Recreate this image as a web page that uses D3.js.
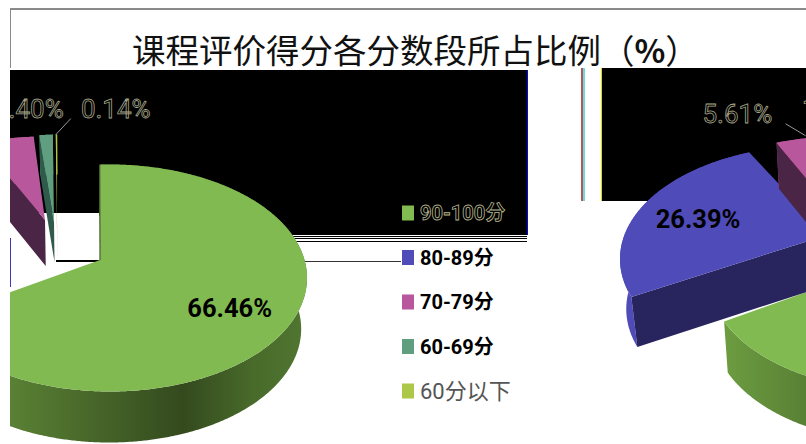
<!DOCTYPE html>
<html>
<head>
<meta charset="utf-8">
<script src="https://cdn.jsdelivr.net/npm/d3@7"></script>
<style>
  html, body { margin: 0; background: #fff; overflow: hidden; }
  text { font-family: Roboto, "Noto Sans CJK SC", sans-serif; }
</style>
</head>
<body>
<div id="chart"></div>
<script>
// data
const titleParts = ["课程评价得分各分数段所占比例（", "%", "）"];
const categories = ["90-100分", "80-89分", "70-79分", "60-69分", "60分以下"];
const values = [66.46, 26.39, 5.61, 1.40, 0.14];
const colors = ["#80ba50", "#4f4bb8", "#b9579d", "#5f9f80", "#adc748"];
const cutColors = ["#4a6b2a", "#27245e", "#4a2545", "#2f5a4c", "#6b7c2a"];

// each exploded slice: ellipse centre, apex, angle shift, wall depth (drawn coordinates)
const sliceGeo = [
  { cx: 906, cy: 278, ax: 896, ay: 260, rot: -3, depth: 51, labelR: 0.63, dx: 0, dy: 11, size: 25.5 },
  { cx: 817, cy: 259, ax: 827, ay: 235, rot: 0, depth: 50, labelR: 0.68, dx: -2, dy: -2, size: 25.5 },
  { cx: 841, cy: 250, ax: 841, ay: 220, rot: 1, depth: 46, labelR: 1.2, dx: -58, dy: -2, size: 26 },
  { cx: 857, cy: 248, ax: 850, ay: 222, rot: -2, depth: 40, labelR: 1.22, dx: -14, dy: -1, size: 26 },
  { cx: 860, cy: 248, ax: 853, ay: 222, rot: -2, depth: 40, labelR: 1.22, dx: 61, dy: -1, size: 26 }
];

const width = 806, height = 444;
const wrap = 796;     // the picture wraps round: what leaves on the right comes back at x=10
const rx = 197, ry = 113.5;
const vanishX = 870;  // walls lean slightly towards this x

const svg = d3.select("#chart").append("svg")
  .attr("width", width).attr("height", height)
  .style("display", "block");

const defs = svg.append("defs");
defs.append("clipPath").attr("id", "leftClip")
  .append("rect").attr("x", 10).attr("y", 0).attr("width", width).attr("height", height);

const wallGrad = defs.append("linearGradient").attr("id", "greenWall")
  .attr("gradientUnits", "userSpaceOnUse")
  .attr("x1", 700).attr("x2", 1110).attr("y1", 0).attr("y2", 0);
[[0, "#72a444"], [0.25, "#5a8235"], [0.68, "#344a1e"], [0.85, "#486a2a"], [1, "#527832"]].forEach(s => {
  wallGrad.append("stop").attr("offset", s[0]).attr("stop-color", s[1]);
});

// background blocks
const blocks = [
  [10, 70, 517, 143, "#000"],
  [250, 213, 277, 22, "#000"],
  [602, 68, 204, 133, "#000"],
  [527, 70, 1, 165, "#00f"],
  [601, 68, 1, 133, "#dd0"],
  [581, 68, 2, 133, "#b55"],
  [583, 68, 2, 133, "#6dd"],
  [290, 236, 237, 1, "#000"],
  [290, 238, 237, 1, "#000"],
  [290, 241, 237, 1, "#000"],
  [58, 213, 39, 47, "#fff"],
  [56, 260, 44, 2, "#000"],
  [305, 261, 96, 1, "#333"],
  [10, 238, 1, 49, "#3a38c0"],
  [10, 8, 796, 2, "#8a8a8a"],
  [10, 8, 1, 60, "#8a8a8a"]
];
svg.append("g").selectAll("rect").data(blocks).join("rect")
  .attr("x", d => d[0]).attr("y", d => d[1])
  .attr("width", d => d[2]).attr("height", d => d[3])
  .attr("fill", d => d[4]);

// slices
const pie = d3.pie().sort(null).value(d => d);
const arcs = pie(values);

// foreshortening of the tilted plate: true angle -> drawn angle, in degrees
const deg = r => r * 180 / Math.PI;
const rad = a => a * Math.PI / 180;
const drawnAngle = (r, rot) => deg(r) - 13 * Math.sin(r) + rot;

const rim = (g, t, r = 1) => [g.cx + rx * r * Math.sin(rad(t)), g.cy - ry * r * Math.cos(rad(t))];
const line = d3.line();

function rimPoints(g, t0, t1) {
  const n = Math.max(2, Math.ceil((t1 - t0) * 2));
  return d3.range(n + 1).map(i => rim(g, t0 + (t1 - t0) * i / n));
}

function drawPie(root, skip, labelShift) {
  [0, 1, 2, 3, 4].forEach(i => {
    if (skip.includes(i)) return;
    const g = sliceGeo[i], a = arcs[i];
    const t0 = drawnAngle(a.startAngle, g.rot), t1 = drawnAngle(a.endAngle, g.rot);
    const pts = rimPoints(g, t0, t1);
    const down = p => [p[0] + (vanishX - p[0]) * 0.025, p[1] + g.depth];

    // outer wall
    root.append("path")
      .attr("d", line(pts.concat(pts.map(down).reverse())) + "Z")
      .attr("fill", i === 0 ? "url(#greenWall)" : colors[i]);

    // cut face on the side that looks at the viewer (the green one looks away)
    if (i !== 0) {
      const cut = pts[0];
      root.append("path")
        .attr("d", line([[g.ax, g.ay], cut, down(cut), down([g.ax, g.ay])]) + "Z")
        .attr("fill", cutColors[i]);
    }

    // top face
    root.append("path")
      .attr("d", line([[g.ax, g.ay]].concat(pts)) + "Z")
      .attr("fill", colors[i]);

    if (i === 0) {
      root.append("line")
        .attr("x1", g.ax).attr("y1", g.ay).attr("x2", pts[0][0]).attr("y2", pts[0][1])
        .attr("stroke", "#4a5a30").attr("stroke-width", 1.2);
    }
  });

  // labels
  arcs.forEach((a, i) => {
    if (skip.includes(i)) return;
    const g = sliceGeo[i];
    const mid = drawnAngle((a.startAngle + a.endAngle) / 2, g.rot);
    const p = rim(g, mid, g.labelR);
    const onBlack = i >= 2;
    root.append("text")
      .attr("x", p[0] + g.dx + (i === 3 ? labelShift : 0)).attr("y", p[1] + g.dy)
      .attr("text-anchor", "middle").attr("dominant-baseline", "central")
      .attr("font-size", g.size).attr("font-weight", onBlack ? 400 : 700)
      .attr("fill", "#000")
      .attr("stroke", onBlack ? "#a9a98c" : "none").attr("stroke-width", 0.8)
      .text(d3.format(".2f")(values[i]) + "%");
  });

  // leader lines of the two small slices that have one
  [[2, -20, -12], [4, 15, -16]].forEach(l => {
    const i = l[0];
    if (skip.includes(i)) return;
    const g = sliceGeo[i], a = arcs[i];
    const p = rim(g, drawnAngle(a.startAngle, g.rot));
    const from = i === 2 ? [p[0] + 29, p[1] - 7] : p;
    root.append("line")
      .attr("x1", from[0]).attr("y1", from[1])
      .attr("x2", from[0] + l[1]).attr("y2", from[1] + l[2])
      .attr("stroke", "#9a9a9a").attr("stroke-width", 1);
  });
}

drawPie(svg.append("g"), [], 12);
drawPie(svg.append("g").attr("clip-path", "url(#leftClip)")
  .append("g").attr("transform", `translate(${-wrap},0)`), [1], 0);

// legend
const legendY = d3.scalePoint().domain(categories).range([213, 391]);
const legend = svg.append("g").selectAll("g").data(categories).join("g")
  .attr("transform", d => `translate(402,${legendY(d)})`);
legend.append("rect")
  .attr("x", 0).attr("y", -7.5).attr("width", 12).attr("height", 15)
  .attr("fill", (d, i) => colors[i]);
legend.append("text")
  .attr("x", 18).attr("dominant-baseline", "central")
  .attr("font-size", (d, i) => i === 4 ? 22 : 20).attr("font-weight", (d, i) => i === 4 ? 400 : 700)
  .attr("fill", (d, i) => i === 4 ? "#555" : "#000")
  .attr("stroke", (d, i) => i === 0 ? "#b8b890" : "none").attr("stroke-width", 0.8)
  .text(d => d);

// title
const titleText = svg.append("text")
  .attr("x", 132).attr("y", 63)
  .attr("font-size", 33.5).attr("fill", "#111");
titleText.selectAll("tspan").data(titleParts).join("tspan")
  .attr("font-family", "'Noto Sans CJK SC'")
  .attr("font-weight", (d, i) => i === 1 ? 700 : 400)
  .attr("font-size", (d, i) => i === 1 ? 32 : 33.5)
  .text(d => d);
</script>
</body>
</html>
